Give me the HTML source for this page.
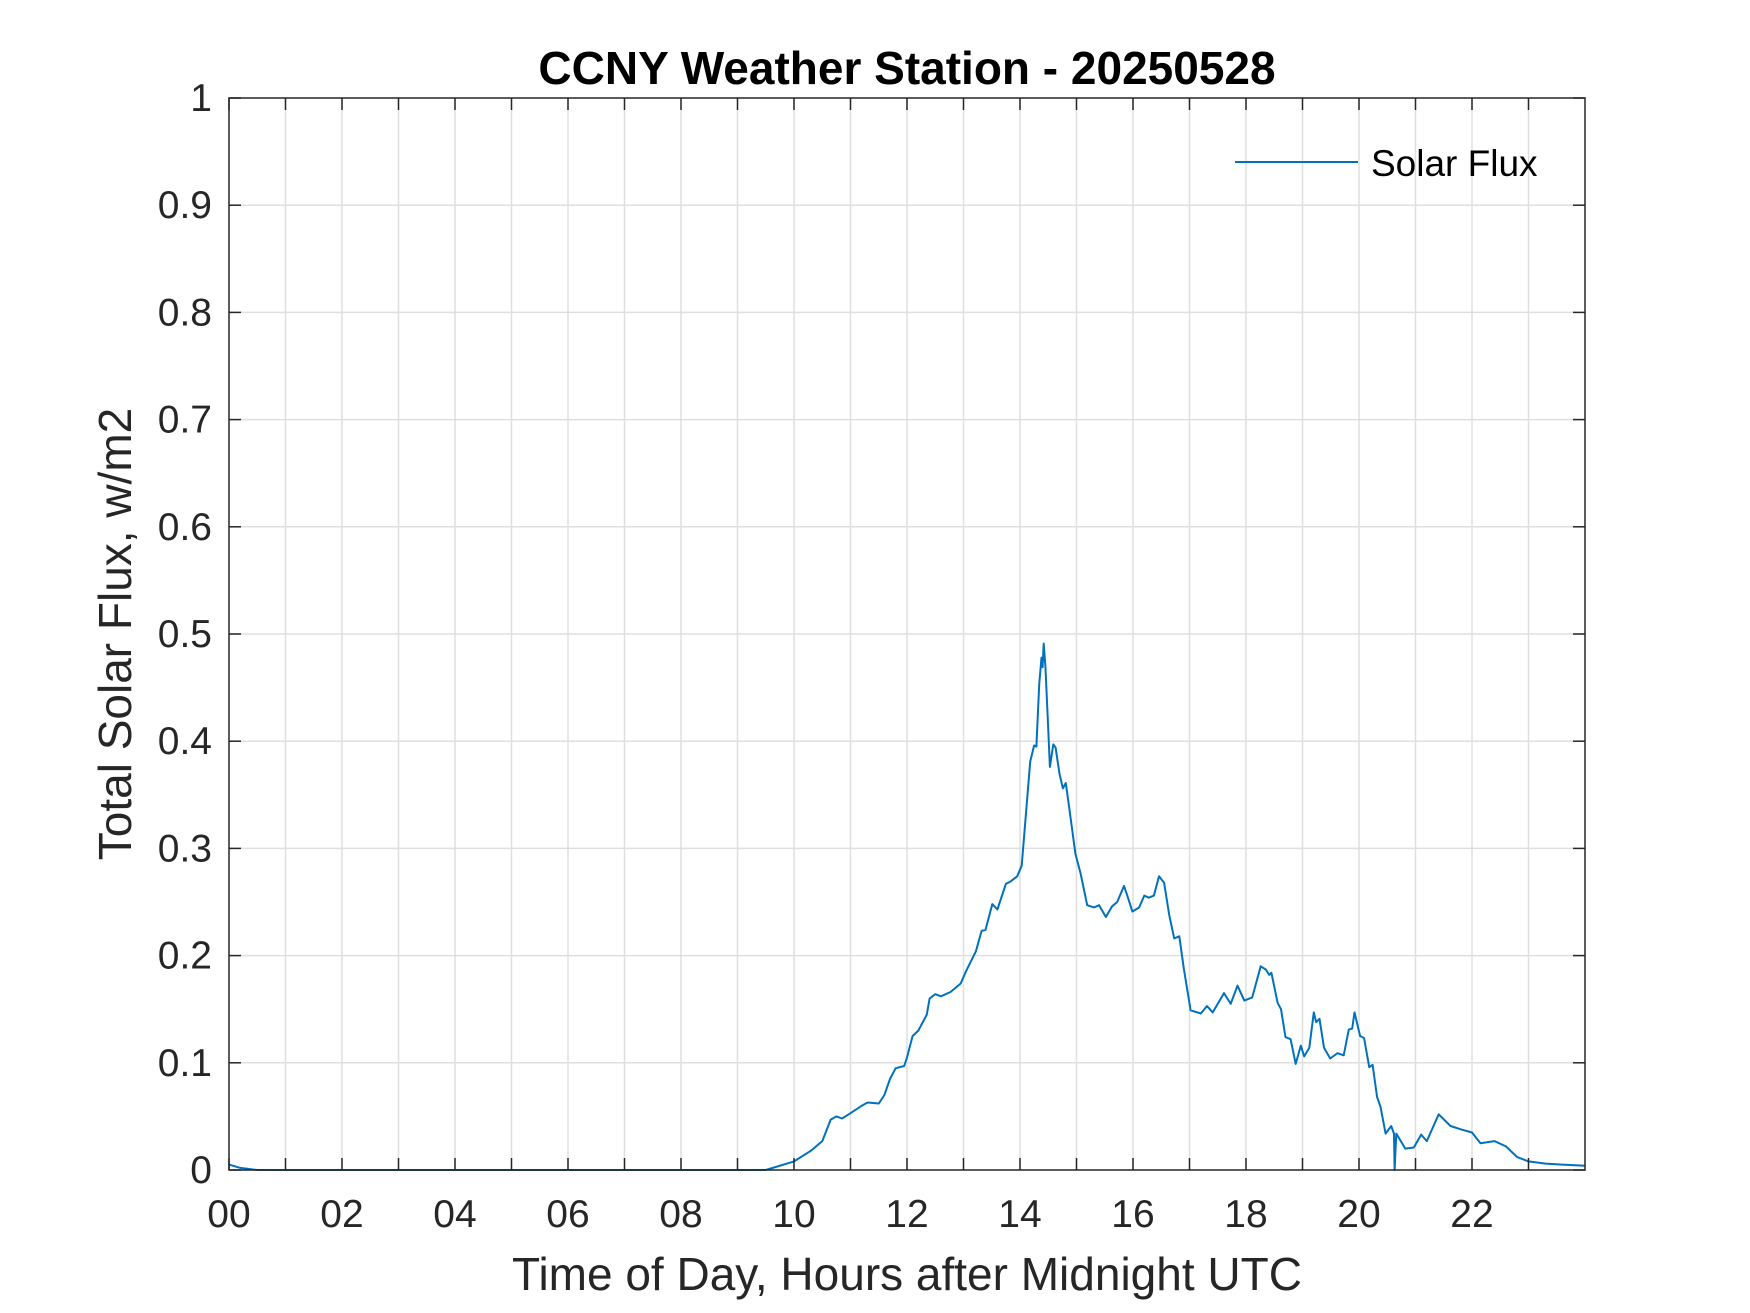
<!DOCTYPE html>
<html><head><meta charset="utf-8"><style>
html,body{margin:0;padding:0;background:#fff;}
svg{display:block;font-family:"Liberation Sans",Arial,sans-serif;}
</style></head><body>
<svg id="chart" width="1750" height="1313" viewBox="0 0 1750 1313" xmlns="http://www.w3.org/2000/svg">
<rect width="1750" height="1313" fill="#fff"/>
<g id="grid"></g>
<g id="series"></g>
<g id="axes"></g>
<text x="907" y="84" text-anchor="middle" font-size="46" font-weight="bold" fill="#000">CCNY Weather Station - 20250528</text>
<text x="907" y="1290" text-anchor="middle" font-size="46" fill="#262626">Time of Day, Hours after Midnight UTC</text>
<text transform="translate(131,634) rotate(-90)" text-anchor="middle" font-size="46" fill="#262626">Total Solar Flux, w/m2</text>
<g>
<line x1="1235" y1="162" x2="1358" y2="162" stroke="#0072BD" stroke-width="2"/>
<text x="1371" y="176" font-size="37" fill="#000">Solar Flux</text>
</g>
</svg>
<script>
const xTickValues = [0,2,4,6,8,10,12,14,16,18,20,22];
const xTickLabels = ["00","02","04","06","08","10","12","14","16","18","20","22"];
const yTickValues = [0,0.1,0.2,0.3,0.4,0.5,0.6,0.7,0.8,0.9,1];
const yTickLabels = ["0","0.1","0.2","0.3","0.4","0.5","0.6","0.7","0.8","0.9","1"];
const hours = [0,0.2,0.5,9.5,10,10.3,10.5,10.65,10.75,10.85,11,11.2,11.3,11.5,11.6,11.7,11.8,11.95,12,12.1,12.2,12.35,12.4,12.5,12.6,12.77,12.95,13.04,13.22,13.32,13.39,13.51,13.6,13.75,13.83,13.95,14.03,14.07,14.18,14.25,14.29,14.34,14.38,14.4,14.42,14.45,14.5,14.53,14.59,14.63,14.7,14.76,14.81,14.9,14.98,15.07,15.19,15.31,15.4,15.52,15.63,15.72,15.84,15.9,15.99,16.11,16.2,16.28,16.37,16.46,16.55,16.64,16.73,16.82,16.9,17.02,17.2,17.31,17.41,17.61,17.73,17.85,17.97,18.11,18.26,18.35,18.41,18.45,18.56,18.62,18.7,18.79,18.88,18.97,19.03,19.12,19.2,19.24,19.3,19.38,19.49,19.62,19.73,19.82,19.88,19.92,20.02,20.09,20.18,20.24,20.32,20.38,20.47,20.57,20.62,20.63,20.66,20.82,20.97,21.1,21.2,21.41,21.62,21.8,22.0,22.15,22.4,22.6,22.8,23.0,23.3,23.6,24];
const flux = [0.005,0.002,0,0,0.008,0.018,0.027,0.047,0.05,0.048,0.053,0.06,0.063,0.062,0.07,0.085,0.095,0.097,0.105,0.125,0.13,0.145,0.16,0.164,0.162,0.166,0.174,0.185,0.204,0.223,0.224,0.248,0.243,0.267,0.269,0.274,0.284,0.31,0.381,0.396,0.395,0.453,0.478,0.469,0.491,0.47,0.41,0.376,0.397,0.394,0.369,0.356,0.361,0.327,0.295,0.277,0.247,0.245,0.247,0.236,0.246,0.25,0.265,0.256,0.241,0.245,0.256,0.254,0.256,0.274,0.268,0.238,0.216,0.218,0.188,0.149,0.146,0.153,0.147,0.165,0.155,0.172,0.158,0.161,0.19,0.187,0.182,0.184,0.156,0.15,0.124,0.122,0.099,0.116,0.106,0.114,0.147,0.138,0.141,0.114,0.104,0.109,0.107,0.131,0.132,0.147,0.125,0.123,0.096,0.098,0.068,0.059,0.034,0.041,0.034,0,0.034,0.02,0.021,0.033,0.027,0.052,0.041,0.038,0.035,0.025,0.027,0.022,0.012,0.008,0.006,0.005,0.004];

const L=229,R=1585,T=98,B=1170;
const X = h => L + (R-L)*h/24;
const Y = v => B - (B-T)*v;
const NS="http://www.w3.org/2000/svg";
function mk(tag, attrs, parent){const e=document.createElementNS(NS,tag);for(const k in attrs)e.setAttribute(k,attrs[k]);parent.appendChild(e);return e;}
const grid=document.getElementById('grid'), axes=document.getElementById('axes'), series=document.getElementById('series');
for(let h=1;h<24;h++){
  const l=mk('line',{x1:X(h),x2:X(h),y1:T,y2:B,stroke:'#dfdfdf','stroke-width':1.5},grid);
  
  
}
yTickValues.forEach((v,i)=>{
  if(v>0&&v<1){const l=mk('line',{x1:L,x2:R,y1:Y(v),y2:Y(v),stroke:'#dfdfdf','stroke-width':1.5},grid);
  
  }
  const t1=mk('line',{x1:L,x2:L+12,y1:Y(v),y2:Y(v),stroke:'#262626','stroke-width':1.5},axes);
  
  
  const t2=mk('line',{x1:R-12,x2:R,y1:Y(v),y2:Y(v),stroke:'#262626','stroke-width':1.5},axes);
  
  
  const tx=mk('text',{x:L-17,y:Y(v)+13,'text-anchor':'end','font-size':39,fill:'#262626'},axes);
  tx.textContent=yTickLabels[i];
  
  
});
for(let h=0;h<24;h++){
  const t1=mk('line',{x1:X(h),x2:X(h),y1:B,y2:B-12,stroke:'#262626','stroke-width':1.5},axes);
  
  
  const t2=mk('line',{x1:X(h),x2:X(h),y1:T,y2:T+12,stroke:'#262626','stroke-width':1.5},axes);
  
  
}
xTickValues.forEach((h,i)=>{
  const tx=mk('text',{x:X(h),y:1227,'text-anchor':'middle','font-size':39,fill:'#262626'},axes);
  tx.textContent=xTickLabels[i];
  
  
});
const box=mk('rect',{x:L,y:T,width:R-L,height:B-T,fill:'none',stroke:'#262626','stroke-width':1.5},axes);


const pts=hours.map((h,i)=>X(h).toFixed(1)+','+Y(flux[i]).toFixed(1)).join(' ');
const pl=mk('polyline',{points:pts,fill:'none',stroke:'#0072BD','stroke-width':2,'stroke-linejoin':'round'},series);


</script>
</body></html>
